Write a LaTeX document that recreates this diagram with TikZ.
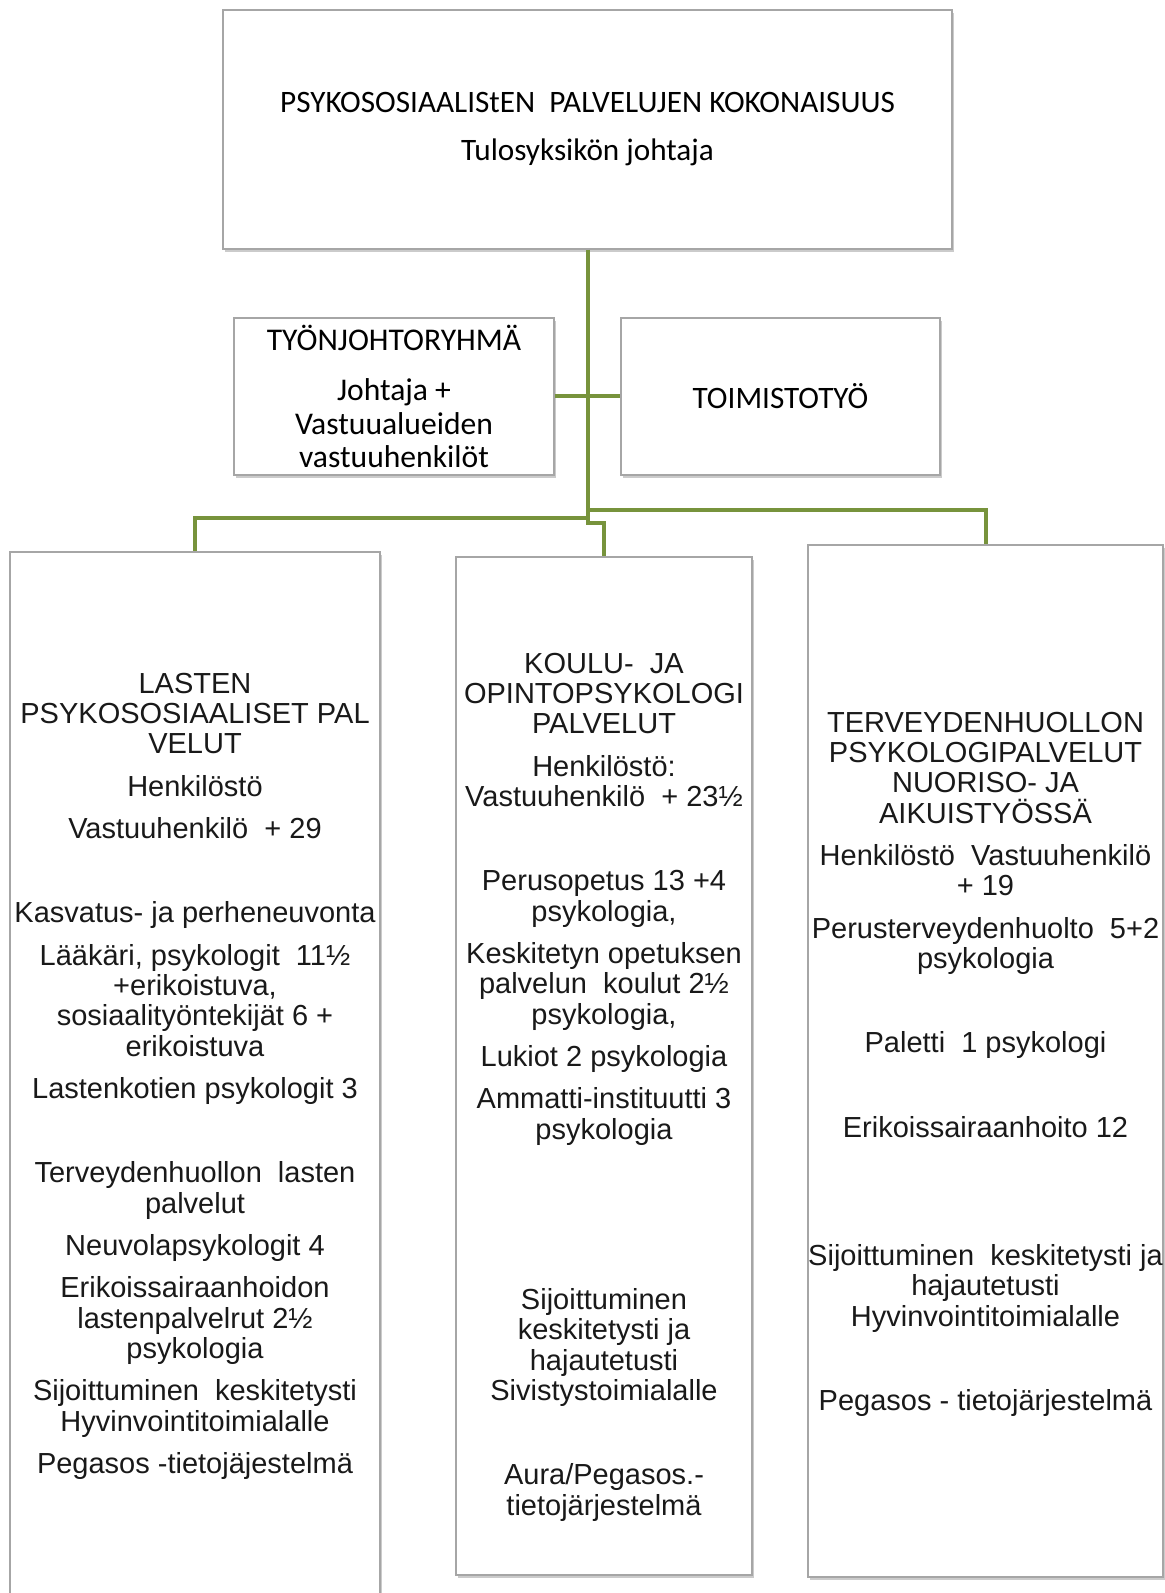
\documentclass[tikz,border=0pt]{standalone}
\usepackage{fontspec}
\setmainfont{Liberation Sans}
\newfontfamily\calibrifont{Carlito}
\usetikzlibrary{positioning,shadows}
\definecolor{linkgreen}{HTML}{77933C}
\definecolor{boxgray}{HTML}{A6A6A6}
\begin{document}
\begin{tikzpicture}[x=0.5pt,y=-0.5pt,
  box/.style={draw=boxgray,line width=0.6pt,fill=white,
    drop shadow={shadow xshift=0.8pt,shadow yshift=-1.6pt,opacity=0.45,fill=black!45}},
  headtext/.style={font=\calibrifont\fontsize{15.6}{18}\selectfont,align=center},
  bodytext/.style={font=\fontsize{14.5}{15.17}\selectfont,align=center,inner sep=0pt,text=black!90},
  link/.style={draw=linkgreen,line width=2pt}]

\fill[white] (0,0) rectangle (1165,1593);
\clip (0,0) rectangle (1165,1593);

% upper level
\node[box,headtext,minimum width=364.5pt,minimum height=119.5pt] (topbox) at (587.5,129.5)
  {PSYKOSOSIAALIStEN\ \ PALVELUJEN KOKONAISUUS\\[6pt]Tulosyksikön johtaja};
\node[box,font=\calibrifont\fontsize{15.8}{16.8}\selectfont,align=center,
  minimum width=160pt,minimum height=78.5pt] (johtobox) at (394,396.5)
  {TYÖNJOHTORYHMÄ\\[8.5pt]Johtaja +\\Vastuualueiden\\vastuuhenkilöt};
\node[box,headtext,minimum width=159.5pt,minimum height=78.5pt] (toimistobox) at (780.5,396.5)
  {TOIMISTOTYÖ};

% three service boxes
\node[box,minimum width=185pt,minimum height=529pt] (lastenbox) at (195,1081) {};
\node[box,minimum width=148pt,minimum height=509pt] (koulubox) at (604,1066) {};
\node[box,minimum width=177.5pt,minimum height=516pt] (terveysbox) at (985.5,1061) {};

\node[bodytext,below=60.5pt of lastenbox.north] (lastentxt) {LASTEN\\
PSYKOSOSIAALISET PAL\\
VELUT\\[6pt]
Henkilöstö\\[6pt]
Vastuuhenkilö\ \ + 29\\[27pt]
Kasvatus- ja perheneuvonta\\[6pt]
Lääkäri, psykologit\ \ 11½\\
+erikoistuva,\\
sosiaalityöntekijät 6 +\\
erikoistuva\\[6pt]
Lastenkotien psykologit 3\\[27pt]
Terveydenhuollon\ \ lasten\\
palvelut\\[6pt]
Neuvolapsykologit 4\\[6pt]
Erikoissairaanhoidon\\
lastenpalvelrut 2½\\
psykologia\\[6pt]
Sijoittuminen\ \ keskitetysti\\
Hyvinvointitoimialalle\\[6pt]
Pegasos -tietojäjestelmä};

\node[bodytext,below=48pt of koulubox.north] (koulutxt) {KOULU-\ \ JA\\
OPINTOPSYKOLOGI\\
PALVELUT\\[6pt]
Henkilöstö:\\
Vastuuhenkilö\ \ + 23½\\[27pt]
Perusopetus 13 +4\\
psykologia,\\[6pt]
Keskitetyn opetuksen\\
palvelun\ \ koulut 2½\\
psykologia,\\[6pt]
Lukiot 2 psykologia\\[6pt]
Ammatti-instituutti 3\\
psykologia\\[70pt]
Sijoittuminen\\
keskitetysti ja\\
hajautetusti\\
Sivistystoimialalle\\[27pt]
Aura/Pegasos.-\\
tietojärjestelmä};

\node[bodytext,below=83.5pt of terveysbox.north] (terveystxt) {TERVEYDENHUOLLON\\
PSYKOLOGIPALVELUT\\
NUORISO- JA\\
AIKUISTYÖSSÄ\\[6pt]
Henkilöstö\ \ Vastuuhenkilö\\
+ 19\\[6pt]
Perusterveydenhuolto\ \ 5+2\\
psykologia\\[27pt]
Paletti\ \ 1 psykologi\\[27pt]
Erikoissairaanhoito 12\\[49pt]
Sijoittuminen\ \ keskitetysti ja\\
hajautetusti\\
Hyvinvointitoimialalle\\[27pt]
Pegasos - tietojärjestelmä};

% connectors
\coordinate (leftfork) at (587.5,518);
\coordinate (rightfork) at (587.5,510);
\draw[link] (topbox.south) -- (leftfork) -- ++(0,5) -| (koulubox.north);
\draw[link] (rightfork) -| (terveysbox.north);
\draw[link] (leftfork) -| (lastenbox.north);
\draw[link] (johtobox) -- (toimistobox);

\end{tikzpicture}
\end{document}
